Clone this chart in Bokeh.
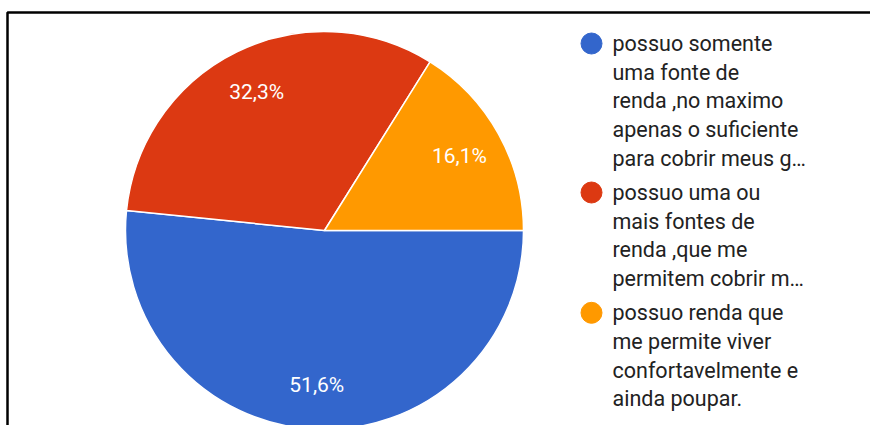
import math
from bokeh.plotting import figure
from bokeh.models import Range1d, ColumnDataSource
from bokeh.core.properties import value
from bokeh.embed import file_html
from bokeh.resources import INLINE

# ---- data ----
categories = [
    "possuo somente uma fonte de renda ,no maximo apenas o suficiente para cobrir meus g…",
    "possuo uma ou mais fontes de renda ,que me permitem cobrir m…",
    "possuo renda que me permite viver confortavelmente e ainda poupar.",
]
legend_lines = [
    ["possuo somente", "uma fonte de", "renda ,no maximo", "apenas o suficiente", "para cobrir meus g…"],
    ["possuo uma ou", "mais fontes de", "renda ,que me", "permitem cobrir m…"],
    ["possuo renda que", "me permite viver", "confortavelmente e", "ainda poupar."],
]
percents = [51.6, 32.3, 16.1]
pct_labels = ["51,6%", "32,3%", "16,1%"]
colors = ["#3366CC", "#DC3912", "#FF9900"]

# ---- layout (pixels) ----
W, H = 870, 425
CX, CY, R = 324, 230, 199
LABEL_FRAC = 0.775
FONT = "Roboto"

def fy(py):
    return H - py

p = figure(width=W, height=H, output_backend="svg", toolbar_location=None,
           x_range=Range1d(0, W), y_range=Range1d(0, H),
           min_border=0, min_border_left=0, min_border_right=0,
           min_border_top=0, min_border_bottom=0)
p.axis.visible = False
p.grid.visible = False
p.outline_line_color = None
p.background_fill_color = "white"
p.border_fill_color = "white"

# frame lines (top and left)
p.line(x=[7, 7, W + 20], y=[fy(H + 20), fy(12), fy(12)], line_color="black", line_width=2.5)

# wedges: start at 3 o'clock, go clockwise
total = sum(percents)
starts, ends, mids = [], [], []
cum = 0.0
for v in percents:
    a0 = cum / total * 2 * math.pi
    cum += v
    a1 = cum / total * 2 * math.pi
    starts.append(-a1)
    ends.append(-a0)
    mids.append(-(a0 + a1) / 2)

src = ColumnDataSource(dict(start=starts, end=ends, color=colors))
p.wedge(x=CX, y=fy(CY), radius=R, start_angle="start", end_angle="end",
        fill_color="color", line_color="white", line_width=1.5, source=src)

# percentage labels
lx = [CX + LABEL_FRAC * R * math.cos(m) for m in mids]
ly = [fy(CY) + LABEL_FRAC * R * math.sin(m) for m in mids]
p.text(x=lx, y=ly, text=pct_labels, text_color="white", text_font=value(FONT),
       text_font_size="21px", text_align="center", text_baseline="middle")

# legend
LINE_H = 28.7
ITEM_GAP = 5.5
MARK_X, TEXT_X = 591, 612
y = 43
for i, lines in enumerate(legend_lines):
    p.scatter(x=[MARK_X], y=[fy(y)], size=21, marker="circle",
              fill_color=colors[i], line_color=colors[i])
    ys = [fy(y + k * LINE_H) for k in range(len(lines))]
    p.text(x=[TEXT_X] * len(lines), y=ys, text=lines, text_color="#222222",
           text_font=value(FONT), text_font_size="21.5px",
           text_align="left", text_baseline="middle")
    y += len(lines) * LINE_H + ITEM_GAP

open("out.html", "w").write(file_html(p, INLINE))
